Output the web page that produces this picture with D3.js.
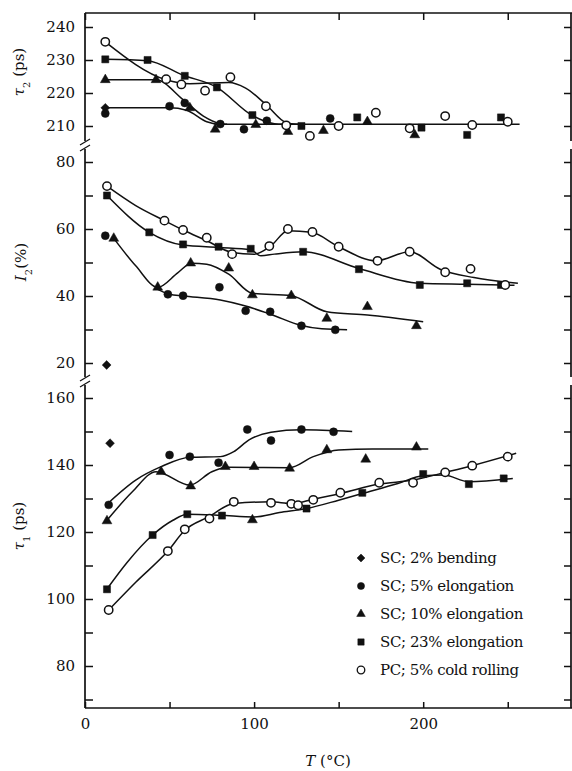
<!DOCTYPE html>
<html>
<head>
<meta charset="utf-8">
<script src="https://cdn.jsdelivr.net/npm/d3@7"></script>
<style>
  body { margin: 0; background: #fff; }
  svg text { font-family: "DejaVu Serif", "Liberation Serif", serif; fill: #111; }
</style>
</head>
<body>
<div id="chart"></div>
<script>
// temperature T (°C), value pairs
const legendLabels = ['SC; 2% bending', 'SC; 5% elongation', 'SC; 10% elongation', 'SC; 23% elongation', 'PC; 5% cold rolling'];

// tau2 (ps)
const tau2Bend = [[12, 215.5]];
const tau2Elong5 = [[12, 213.8], [50, 216], [59, 217], [80, 210.6], [94, 209], [107.5, 211.6], [145, 212.3]];
const tau2Elong10 = [[12, 224], [42, 224], [62, 215.5], [77, 209], [101, 210.4], [120, 208.3], [141, 208.6], [167, 211.3], [195, 207.3]];
const tau2Elong23 = [[12, 230.2], [37, 230], [59, 225.2], [78, 221.7], [99, 213.3], [128, 210], [161, 212.6], [199, 209.5], [226, 207.3], [246, 212.6]];
const tau2Cold = [[12, 235.5], [48, 224.2], [57, 222.6], [71, 220.7], [86, 224.8], [107, 216], [119, 210.2], [133, 207], [150, 210], [172, 214], [192, 209.3], [213, 213], [229, 210.3], [250, 211.3]];
const tau2Fit5 = [[12, 215.5], [50, 215.5], [60, 214.8], [72, 211.3], [80, 210.5], [257, 210.5]];
const tau2Fit10 = [[12, 224], [42, 224], [58, 218], [70, 213], [80, 210.7], [84, 210.5]];
const tau2Fit23 = [[12, 230.2], [37, 229.8], [58, 225.4], [78, 221.7], [98.6, 213.3], [112, 210.7], [118, 210.5]];
const tau2FitCold = [[12, 235.5], [48, 224], [62, 222.8], [85, 223.2], [95, 221.5], [107, 216.5], [119, 211], [126, 210.5]];

// I2 (%)
const i2Bend = [[12.8, 19.4]];
const i2Elong5 = [[12, 58], [49, 40.5], [58, 40.1], [79.5, 42.6], [95, 35.6], [109.5, 35.3], [128, 31.1], [148, 29.9]];
const i2Elong10 = [[17, 57.2], [43, 42.6], [62.5, 49.8], [85, 48.3], [99, 40.3], [122, 40.1], [143, 33.3], [167, 36.8], [196, 31.1]];
const i2Elong23 = [[13, 70], [38, 59], [58, 55.4], [79, 54.7], [98, 54.1], [129, 53.2], [162, 48], [198, 43.3], [226, 43.8], [246, 43.3]];
const i2Cold = [[13, 72.8], [47, 62.5], [58, 59.7], [72, 57.4], [87, 52.5], [109, 54.9], [120, 60], [134.5, 59.1], [150, 54.7], [173, 50.5], [192, 53.2], [213, 47.1], [228, 48.1], [248.5, 43.3]];
const i2Fit5 = [[43, 42], [50, 40.5], [58, 40], [80, 38.8], [95, 37], [110, 34.5], [128, 31.2], [140, 30.2], [155, 29.9]];
const i2Fit10 = [[17, 57.2], [30, 49], [43, 42.6], [55, 47], [63, 49.8], [72, 49.5], [85, 46.5], [99, 40.8], [122, 40.1], [143, 35.3], [167, 34.3], [200, 32.3]];
const i2Fit23 = [[13, 70], [38, 59], [58, 55.2], [79, 54.5], [98, 53.8], [104, 52], [112, 52.5], [129, 53.2], [162, 48.2], [198, 43.8], [226, 43.5], [254, 43.2]];
const i2FitCold = [[13, 72.8], [30, 67], [47, 62.5], [58, 59.7], [72, 56.5], [87, 53], [100, 52.5], [110, 55], [120, 59.5], [134, 59], [150, 54.7], [172, 50.5], [192, 53.2], [210, 48], [230, 45.5], [256, 43.8]];

// tau1 (ps)
const tau1Bend = [[14.8, 146.5]];
const tau1Elong5 = [[14, 128.1], [50, 143], [62, 142.5], [79, 140.7], [96, 150.6], [110, 147.3], [128, 150.6], [147, 149.9]];
const tau1Elong10 = [[13, 123.3], [45, 138], [62.5, 133.7], [83, 139.5], [99, 123.6], [100, 139.5], [121, 139], [143, 144.5], [166, 141.7], [196, 145.3]];
const tau1Elong23 = [[13, 102.9], [40, 119.1], [60.5, 125.3], [81, 124.9], [131, 127], [164, 131.7], [200, 137.3], [227, 134.3], [247.6, 136]];
const tau1Cold = [[14, 96.7], [49, 114.3], [59, 120.8], [73.6, 124], [88, 129], [110, 128.7], [122, 128.4], [126, 128], [135, 129.6], [151, 131.7], [174, 134.7], [194, 134.7], [213, 137.8], [229, 139.8], [250, 142.5]];
const tau1Fit5 = [[13, 128.3], [30, 135.5], [45, 139.5], [62, 142.3], [80, 142.5], [88, 144], [97, 147.5], [110, 149.8], [128, 150.5], [158, 150]];
const tau1Fit10 = [[13, 123.5], [28, 132], [42, 138], [62, 134], [75, 138], [85, 139.3], [121, 139.2], [135, 142.5], [150, 144.5], [170, 144.8], [203, 144.8]];
const tau1Fit23 = [[13, 103], [25, 111], [40, 119.1], [52, 123.5], [60.5, 125.3], [80, 125], [100, 124.5], [115, 125.8], [131, 127], [150, 129.5], [164, 131.5], [185, 134.5], [200, 136.8], [212, 137], [227, 135], [253, 136]];
const tau1FitCold = [[14, 96.7], [30, 105], [49, 114.3], [59, 120.5], [73, 124.5], [88, 128.5], [110, 129], [122, 128.5], [135, 129.8], [151, 131.5], [174, 134.3], [194, 135.5], [213, 137.8], [229, 139.8], [255, 143.5]];

const xTicks = [0, 50, 100, 150, 200, 250];
const tau2Ticks = [210, 220, 230, 240];
const i2Ticks = [20, 30, 40, 50, 60, 70, 80];
const tau1Ticks = [70, 80, 90, 100, 110, 120, 130, 140, 150, 160];

const width = 572;
const height = 771;
const plotLeft = 85;
const plotRight = 572;
const plotTop = 13;
const plotBottom = 708;
const breaks = [145, 381];

const svg = d3.select('#chart')
    .append('svg')
    .attr('width', width)
    .attr('height', height);

const x = d3.scaleLinear().domain([0, 288]).range([plotLeft, plotRight]);
const yTau2 = d3.scaleLinear().domain([210, 240]).range([126, 27]);
const yI2 = d3.scaleLinear().domain([20, 80]).range([363, 162]);
const yTau1 = d3.scaleLinear().domain([80, 160]).range([666, 398]);

const symbols = [d3.symbolDiamond2 || d3.symbolDiamond, d3.symbolCircle, d3.symbolTriangle, d3.symbolSquare, d3.symbolCircle];
const sizes = [50, 50, 42, 50, 55];

const panels = [
    { y: yTau2, ticks: tau2Ticks, labels: [210, 220, 230, 240],
      points: [tau2Bend, tau2Elong5, tau2Elong10, tau2Elong23, tau2Cold],
      fits: [tau2Fit5, tau2Fit10, tau2Fit23, tau2FitCold] },
    { y: yI2, ticks: i2Ticks, labels: [20, 40, 60, 80],
      points: [i2Bend, i2Elong5, i2Elong10, i2Elong23, i2Cold],
      fits: [i2Fit5, i2Fit10, i2Fit23, i2FitCold] },
    { y: yTau1, ticks: tau1Ticks, labels: [80, 100, 120, 140, 160],
      points: [tau1Bend, tau1Elong5, tau1Elong10, tau1Elong23, tau1Cold],
      fits: [tau1Fit5, tau1Fit10, tau1Fit23, tau1FitCold] }
];

function styleAxis(g) {
    g.select('.domain').remove();
    g.selectAll('.tick line').attr('stroke', '#111').attr('stroke-width', 1.5);
    g.selectAll('.tick text').style('font-size', '15px').style('font-family', '"DejaVu Serif", serif');
}

// frame lines (left axis broken twice)
const frame = svg.append('g').attr('stroke', '#111').attr('stroke-width', 1.7).attr('fill', 'none');
frame.append('line').attr('x1', plotLeft).attr('x2', plotRight).attr('y1', plotTop).attr('y2', plotTop);
frame.append('line').attr('x1', plotLeft).attr('x2', plotRight).attr('y1', plotBottom).attr('y2', plotBottom);
[[plotTop, breaks[0] - 4], [breaks[0] + 4, breaks[1] - 4], [breaks[1] + 4, plotBottom]].forEach(s => {
    frame.append('line').attr('x1', plotLeft).attr('x2', plotLeft).attr('y1', s[0]).attr('y2', s[1]);
    frame.append('line').attr('x1', plotRight - 1).attr('x2', plotRight - 1).attr('y1', s[0]).attr('y2', s[1]);
});
breaks.forEach(b => {
    [-3, 3].forEach(o => {
        frame.append('line').attr('x1', plotLeft - 5).attr('x2', plotLeft + 5)
            .attr('y1', b + o + 3).attr('y2', b + o - 3).attr('stroke-width', 1.2);
    });
});

const line = d3.line()
    .x(d => x(d[0]))
    .curve(d3.curveMonotoneX);

panels.forEach(p => {
    svg.append('g')
        .attr('transform', `translate(${plotLeft},0)`)
        .call(d3.axisLeft(p.y).tickValues(p.ticks).tickSize(-8).tickPadding(10)
            .tickFormat(d => p.labels.includes(d) ? d : ''))
        .call(styleAxis);

    svg.append('g')
        .attr('transform', `translate(${plotRight - 1},0)`)
        .call(d3.axisRight(p.y).tickValues(p.ticks).tickSize(-7).tickFormat(''))
        .call(styleAxis);

    line.y(d => p.y(d[1]));
    svg.append('g')
        .selectAll('path')
        .data(p.fits)
        .enter()
        .append('path')
        .attr('d', d => line(d))
        .attr('fill', 'none')
        .attr('stroke', '#111')
        .attr('stroke-width', 1.5);

    p.points.forEach((pts, i) => {
        svg.append('g')
            .selectAll('path')
            .data(pts)
            .enter()
            .append('path')
            .attr('transform', d => `translate(${x(d[0])},${p.y(d[1])})`)
            .attr('d', d3.symbol().type(symbols[i]).size(sizes[i]))
            .attr('fill', i === 4 ? '#fff' : '#111')
            .attr('stroke', '#111')
            .attr('stroke-width', i === 4 ? 1.5 : 0.5);
    });
});

svg.append('g')
    .attr('transform', `translate(0,${plotBottom})`)
    .call(d3.axisBottom(x).tickValues(xTicks).tickSize(-6).tickPadding(10)
        .tickFormat(d => d % 100 === 0 ? d : ''))
    .call(styleAxis);

svg.append('g')
    .attr('transform', `translate(0,${plotTop})`)
    .call(d3.axisTop(x).tickValues(xTicks).tickSize(-7).tickFormat(''))
    .call(styleAxis);

// axis titles
function yTitle(cx, cy, parts) {
    const t = svg.append('text')
        .attr('transform', `translate(${cx},${cy}) rotate(-90)`)
        .attr('text-anchor', 'middle')
        .style('font-size', '15px');
    parts.forEach(pt => {
        const s = t.append('tspan').text(pt.t);
        if (pt.it) s.style('font-style', 'italic');
        if (pt.sub) s.attr('baseline-shift', 'sub').style('font-size', '10px');
    });
}
yTitle(24, 72, [{ t: 'τ', it: true }, { t: '2', sub: true }, { t: ' (ps)' }]);
yTitle(26, 262, [{ t: 'I', it: true }, { t: '2', sub: true }, { t: '(%)' }]);
yTitle(24, 526, [{ t: 'τ', it: true }, { t: '1', sub: true }, { t: ' (ps)' }]);

const xt = svg.append('text')
    .attr('x', 328)
    .attr('y', 766)
    .attr('text-anchor', 'middle')
    .style('font-size', '15px');
xt.append('tspan').text('T').style('font-style', 'italic');
xt.append('tspan').text(' (°C)');

// legend
const legend = svg.append('g')
    .selectAll('g')
    .data(legendLabels)
    .enter()
    .append('g')
    .attr('transform', (d, i) => `translate(361,${558 + i * 28})`);

legend.append('path')
    .attr('d', (d, i) => d3.symbol().type(symbols[i]).size(sizes[i] - 10)())
    .attr('fill', (d, i) => i === 4 ? '#fff' : '#111')
    .attr('stroke', '#111')
    .attr('stroke-width', (d, i) => i === 4 ? 1.3 : 0.5);

legend.append('text')
    .attr('x', 19)
    .attr('dy', '0.35em')
    .style('font-size', '15px')
    .style('letter-spacing', '-0.4px')
    .text(d => d);
</script>
</body>
</html>
